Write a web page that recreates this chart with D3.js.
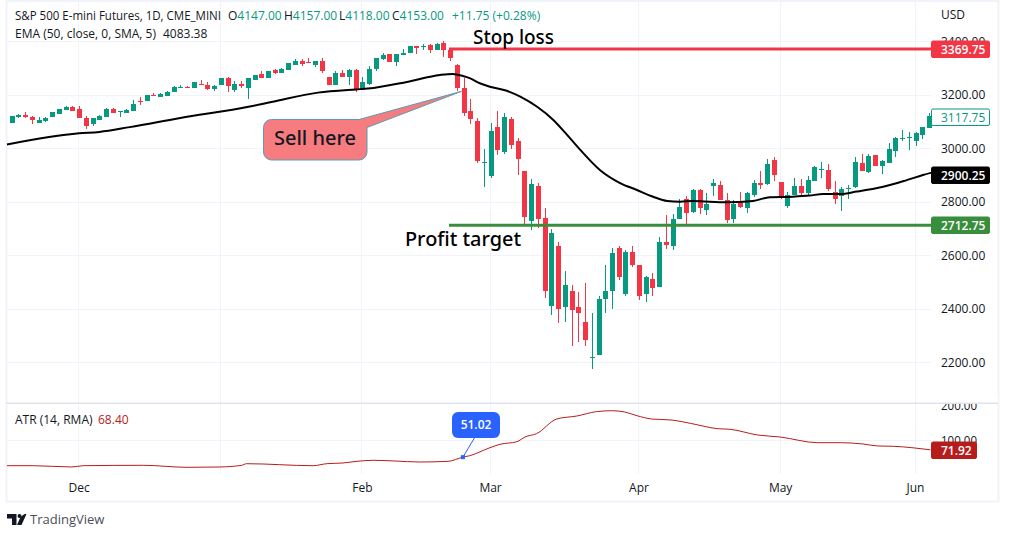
<!DOCTYPE html>
<html><head><meta charset="utf-8">
<script src="https://cdn.jsdelivr.net/npm/d3@7/dist/d3.min.js"></script>
<style>
html,body{margin:0;padding:0;background:#fff;overflow:hidden}
svg{display:block}
text{font-family:"Open Sans","Noto Sans",sans-serif}
</style></head><body>
<svg id="c" width="1009" height="537"></svg>
<script>
const open=[3094,3115,3124,3116,3093,3102,3115,3126,3141,3155,
3146,3114,3088,3106,3115,3145,3133,3130,3140,3176,
3175,3198,3190,3196,3210,3225,3227,3224,3241,3237,
3220,3235,3262,3216,3241,3226,3256,3277,3260,3291,
3281,3290,3312,3325,3320,3311,3327,3267,3234,3282,
3267,3290,3217,3241,3297,3333,3350,3321,3346,3357,
3380,3377,3386,3368,3391,3368,3310,3224,3138,3100,
2948,2896,3078,2984,3108,3025,2913,2726,2857,2740,
2411,2632,2404,2467,2404,2351,2218,2228,2437,2467,
2628,2456,2613,2561,2456,2512,2482,2647,2635,2736,
2811,2759,2844,2767,2859,2863,2807,2733,2793,2774,
2826,2870,2867,2956,2874,2785,2826,2859,2830,2878,
2921,2919,2837,2819,2847,2856,2944,2911,2974,2933,
2944,2989,3033,3036,3026,3048,3074];
const high=[3119,3128,3134,3119,3115,3116,3134,3145,3156,3156,
3156,3121,3114,3124,3151,3149,3140,3145,3179,3189,
3200,3204,3204,3214,3230,3235,3231,3245,3254,3245,
3234,3260,3264,3250,3252,3262,3274,3286,3289,3297,
3298,3316,3332,3331,3338,3327,3338,3267,3286,3291,
3295,3296,3266,3307,3338,3356,3350,3353,3371,3383,
3383,3387,3390,3392,3399,3368,3313,3262,3183,3114,
2996,3093,3138,3130,3115,3037,2913,2883,2868,2774,
2699,2650,2542,2486,2460,2497,2385,2448,2561,2628,
2635,2620,2635,2561,2523,2531,2669,2751,2755,2811,
2822,2848,2848,2833,2885,2878,2833,2807,2837,2837,
2881,2915,2959,2967,2874,2837,2889,2885,2896,2933,
2948,2941,2878,2856,2863,2967,2978,2978,2974,2956,
3019,3041,3067,3059,3059,3078,3130];
const low=[3094,3111,3111,3089,3093,3098,3115,3126,3141,3140,
3111,3070,3082,3104,3115,3129,3115,3130,3138,3160,
3175,3194,3190,3196,3210,3224,3224,3224,3235,3216,
3212,3235,3210,3210,3226,3183,3256,3260,3260,3275,
3279,3290,3312,3308,3316,3302,3279,3234,3234,3265,
3237,3211,3217,3237,3287,3330,3321,3305,3346,3357,
3350,3365,3355,3368,3340,3327,3214,3120,3090,2944,
2855,2888,2974,2978,2997,2898,2711,2693,2700,2441,
2377,2347,2351,2261,2273,2258,2172,2228,2385,2400,
2505,2445,2557,2433,2426,2448,2482,2624,2620,2733,
2711,2756,2752,2748,2822,2804,2719,2719,2774,2756,
2815,2848,2863,2878,2811,2774,2826,2826,2826,2878,
2889,2841,2789,2763,2811,2852,2915,2907,2933,2904,
2944,2967,3026,2993,3007,3033,3074];
const close=[3119,3124,3116,3105,3105,3111,3134,3145,3153,3140,
3111,3084,3111,3119,3144,3130,3139,3141,3166,3171,
3198,3194,3201,3211,3227,3227,3224,3245,3235,3219,
3231,3260,3231,3241,3230,3262,3274,3260,3289,3281,
3294,3316,3325,3315,3317,3327,3289,3234,3279,3267,
3291,3217,3245,3297,3336,3346,3321,3353,3357,3380,
3373,3380,3365,3387,3365,3335,3224,3131,3108,2952,
2949,3063,2992,3115,3011,2959,2742,2865,2734,2465,
2684,2400,2486,2396,2385,2284,2220,2437,2467,2609,
2519,2613,2564,2445,2516,2478,2647,2639,2736,2781,
2756,2844,2774,2789,2870,2804,2730,2789,2778,2830,
2870,2863,2941,2900,2815,2826,2859,2830,2881,2930,
2923,2848,2811,2848,2849,2948,2915,2970,2933,2952,
2996,3037,3037,3040,3056,3078,3118];
const emaIdx=[-0.7,10,13,17.5,25,35.3,38.7,45.4,51,52.8,58.6,63.5,65.4,66.9,67.9,69.4,70.9,73.4,75.4,77.9,80.3,82.8,84.3,87.2,90.2,92.7,95.1,97.2,99.1,101,106,109.9,112.4,115.8,118.3,120.3,122.8,125.3,129.2,132.7,135.1,136.4];
const emaVal=[3013,3055,3060,3078,3112,3155,3173,3207,3219,3222,3247,3273,3277,3269,3261,3242,3229,3214,3192,3154,3105,3036,2993,2918,2869,2843,2818,2802,2799,2802,2797,2802,2816,2818,2822,2828,2828,2837,2855,2880,2899,2908];
const atrIdx=[-0.7,3.2,8.9,10.6,19.5,26,30.9,34.1,34.8,44.7,46.7,49.1,51.2,53.6,56.8,60.5,64.7,66.9,67.9,70.9,72.4,74.9,76.1,77.8,80.8,83.8,86.7,88.9,90.9,92.7,94.9,97.9,100.6,104.7,106.5,110.6,113.9,119.5,123,126.2,128.4,130.7,136.2];
const atrVal=[26.6,26.6,22.9,26.6,27.7,22,22.9,27.7,32.3,26.6,32.3,34.3,39.1,42,40,37.1,39.1,51.02,55.1,78,87.7,95.1,108.6,118,160,168.6,181,183.7,180,169.4,160,157,147.7,132.3,130.6,114.3,108.6,92.3,92.3,88.6,82.9,82,71.92];
const monthIdx=[10,31,52,71,93,114,134];
const monthLabels=["Dec","","Feb","Mar","Apr","May","Jun"];
const priceTicks=[3400,3200,3000,2800,2600,2400,2200];
const atrTicks=[200,100];
const stopLoss=3369.75, profitTarget=2712.75, lastClose=3117.75, lastEma=2900.25, lastAtr=71.92, atrMark=51.02, atrMarkIdx=66.9;

const UP="#089981",DN="#f23645",GRID="#f0f3fa",TXT="#131722",L=7,R=931;
const svg=d3.select("#c");
const x=d3.scaleLinear().domain([0,136]).range([11.7,929]);
const y=d3.scaleLinear().domain([2200,3400]).range([362,41]);
const ya=d3.scaleLinear().domain([0,200]).range([475,405]);
const fmt=d3.format(".2f");

// frame
svg.append("rect").attr("x",6.5).attr("y",1).attr("width",992).attr("height",500.5).attr("fill","#fff").attr("stroke",GRID).attr("stroke-width",2);

// grid
const g=svg.append("g");
g.selectAll(".vg").data(monthIdx).join("line").attr("x1",d=>Math.round(x(d))-.5).attr("x2",d=>Math.round(x(d))-.5).attr("y1",2).attr("y2",474).attr("stroke",GRID);
g.selectAll(".hg").data(priceTicks).join("line").attr("x1",L).attr("x2",R).attr("y1",d=>Math.round(y(d))+.5).attr("y2",d=>Math.round(y(d))+.5).attr("stroke",GRID);
g.append("line").attr("x1",L).attr("x2",R).attr("y1",Math.round(ya(100))+.5).attr("y2",Math.round(ya(100))+.5).attr("stroke",GRID);

// axes
const ax=svg.append("g").attr("transform","translate(941,0.6)").call(d3.axisRight(y).tickValues(priceTicks).tickFormat(fmt).tickSize(0).tickPadding(0));
ax.select(".domain").remove();
ax.selectAll("text").attr("font-size",12).attr("fill",TXT).attr("font-family",'"Open Sans",sans-serif');
const ax2=svg.append("g").attr("transform","translate(941,0.6)").call(d3.axisRight(ya).tickValues(atrTicks).tickFormat(fmt).tickSize(0).tickPadding(0));
ax2.select(".domain").remove();
ax2.selectAll("text").attr("font-size",12).attr("fill",TXT).attr("font-family",'"Open Sans",sans-serif').attr("textLength",36).attr("lengthAdjust","spacingAndGlyphs");
const ax3=svg.append("g").attr("transform","translate(-0.5,483)").call(d3.axisBottom(x).tickValues(monthIdx).tickFormat((d,i)=>monthLabels[i]).tickSize(0).tickPadding(0));
ax3.select(".domain").remove();
ax3.selectAll("text").attr("font-size",12).attr("fill",TXT).attr("font-family",'"Open Sans",sans-serif');

// pane separator
svg.append("rect").attr("x",931).attr("y",396).attr("width",67).attr("height",8).attr("fill","#fff");
svg.append("rect").attr("x",6).attr("y",402.5).attr("width",992).attr("height",1.5).attr("fill","#e0e3eb");

// candles
const idx=d3.range(open.length);
const cg=svg.append("g");
cg.selectAll(".w").data(idx).join("line").attr("x1",i=>Math.round(x(i))+.5).attr("x2",i=>Math.round(x(i))+.5)
  .attr("y1",i=>Math.round(y(high[i]))).attr("y2",i=>Math.round(y(low[i]))).attr("stroke",i=>close[i]>=open[i]?UP:DN).attr("stroke-width",1);
const bTop=i=>Math.round(y(Math.max(open[i],close[i])));
const bBot=i=>Math.round(y(Math.min(open[i],close[i])));
cg.selectAll(".b").data(idx).join("rect").attr("x",i=>Math.round(x(i))-2).attr("width",5)
  .attr("y",bTop).attr("height",i=>Math.max(1,bBot(i)-bTop(i)))
  .attr("fill",i=>close[i]>=open[i]?UP:DN);

// EMA
const line=d3.line().curve(d3.curveMonotoneX);
svg.append("path").attr("d",line(emaIdx.map((d,i)=>[x(d),y(emaVal[i])]))).attr("fill","none").attr("stroke","#000").attr("stroke-width",2);

// stop / target
svg.append("line").attr("x1",449).attr("x2",R).attr("y1",y(stopLoss)).attr("y2",y(stopLoss)).attr("stroke",DN).attr("stroke-width",3);
svg.append("line").attr("x1",449).attr("x2",R).attr("y1",y(profitTarget)+.3).attr("y2",y(profitTarget)+.3).attr("stroke","#388e3c").attr("stroke-width",3);
svg.append("text").attr("x",473).attr("y",44).attr("font-size",19).attr("font-weight",500).attr("fill","#000").attr("style",'font-family:"Noto Sans",sans-serif').attr("textLength",81).attr("lengthAdjust","spacingAndGlyphs").text("Stop loss");
svg.append("text").attr("x",405).attr("y",246).attr("font-size",19).attr("font-weight",500).attr("fill","#000").attr("style",'font-family:"Noto Sans",sans-serif').attr("textLength",116).attr("lengthAdjust","spacingAndGlyphs").text("Profit target");

// callout
const tip=[x(66.7),y(3212)];
const cp=d3.path();
const bx0=263.5,bx1=367,by0=119.5,by1=160,r=8;
cp.moveTo(bx0+r,by0);cp.lineTo(359,by0);cp.lineTo(tip[0],tip[1]);cp.lineTo(bx1,127.5);
cp.lineTo(bx1,by1-r);cp.arcTo(bx1,by1,bx1-r,by1,r);cp.lineTo(bx0+r,by1);cp.arcTo(bx0,by1,bx0,by1-r,r);cp.lineTo(bx0,by0+r);cp.arcTo(bx0,by0,bx0+r,by0,r);cp.closePath();
svg.append("path").attr("d",cp.toString()).attr("fill","#f77c80").attr("stroke","#5b9cb5").attr("stroke-width",1);
svg.append("text").attr("x",315).attr("y",145).attr("text-anchor","middle").attr("font-size",19.5).attr("font-weight",500).attr("fill","#131722").attr("style",'font-family:"Noto Sans",sans-serif').attr("textLength",82).attr("lengthAdjust","spacingAndGlyphs").text("Sell here");

// legend
const lg=(xp,yp,s,c,w)=>svg.append("text").attr("x",xp).attr("y",yp).attr("font-size",12).attr("fill",c||TXT).attr("font-weight",w||400).text(s);
lg(15,20,"S&P 500 E-mini Futures, 1D, CME_MINI").attr("textLength",206).attr("lengthAdjust","spacingAndGlyphs");
const ohlc=[[228,"O","4147.00"],[284,"H","4157.00"],[339,"L","4118.00"],[392,"C","4153.00"]];
ohlc.forEach(o=>{const t=lg(o[0],20,o[1]);t.append("tspan").attr("fill",UP).text(o[2]);});
lg(452,20,"+11.75 (+0.28%)",UP);
lg(15,37.5,"EMA (50, close, 0, SMA, 5)");
lg(163,37.5,"4083.38");
lg(15,423.5,"ATR (14, RMA)");
lg(98,423.5,"68.40","#b71c1c");
lg(941,19,"USD");

// ATR
svg.append("path").attr("d",line(atrIdx.map((d,i)=>[x(d),ya(atrVal[i])]))).attr("fill","none").attr("stroke","#b71c1c").attr("stroke-width",1);
const mx=x(atrMarkIdx),my=ya(atrMark);
svg.append("line").attr("x1",mx).attr("y1",my).attr("x2",475).attr("y2",437).attr("stroke","#2962ff");
svg.append("rect").attr("x",mx-2).attr("y",my-2).attr("width",4).attr("height",4).attr("fill","#2962ff");
svg.append("rect").attr("x",452).attr("y",412).attr("width",48).attr("height",26).attr("rx",6).attr("fill","#2962ff");
svg.append("text").attr("x",476).attr("y",429).attr("text-anchor","middle").attr("font-size",12).attr("font-weight",600).attr("fill","#fff").text(fmt(atrMark));

// price tags
function tag(v,sc,w,fill,txt,stroke){
  const yy=Math.round(sc(v));
  svg.append("rect").attr("x",931.5).attr("y",yy-8).attr("width",w-1).attr("height",16.5).attr("rx",1.5).attr("fill",fill).attr("stroke",stroke||fill);
  svg.append("text").attr("x",941).attr("y",yy+4.5).attr("font-size",12).attr("font-weight",stroke?400:600).attr("fill",txt).text(fmt(v));
}
tag(stopLoss,y,59,DN,"#fff");
tag(lastClose,y,59,"#fff",UP,UP);
tag(lastEma,y,59,"#000","#fff");
tag(profitTarget,y,59,"#388e3c","#fff");
tag(lastAtr,ya,46,"#b71c1c","#fff");

// attribution
svg.append("path").attr("d","M7 514h9.5v11h-4.5v-6.5h-5z M24.5 514h2l-5 11h-4.5l3.5-8z").attr("fill","#131722");
svg.append("circle").attr("cx",19.5).attr("cy",516).attr("r",2).attr("fill","#131722");
svg.append("text").attr("x",30).attr("y",524).attr("font-size",13).attr("fill","#4a4e59").text("TradingView");
</script>
</body></html>
